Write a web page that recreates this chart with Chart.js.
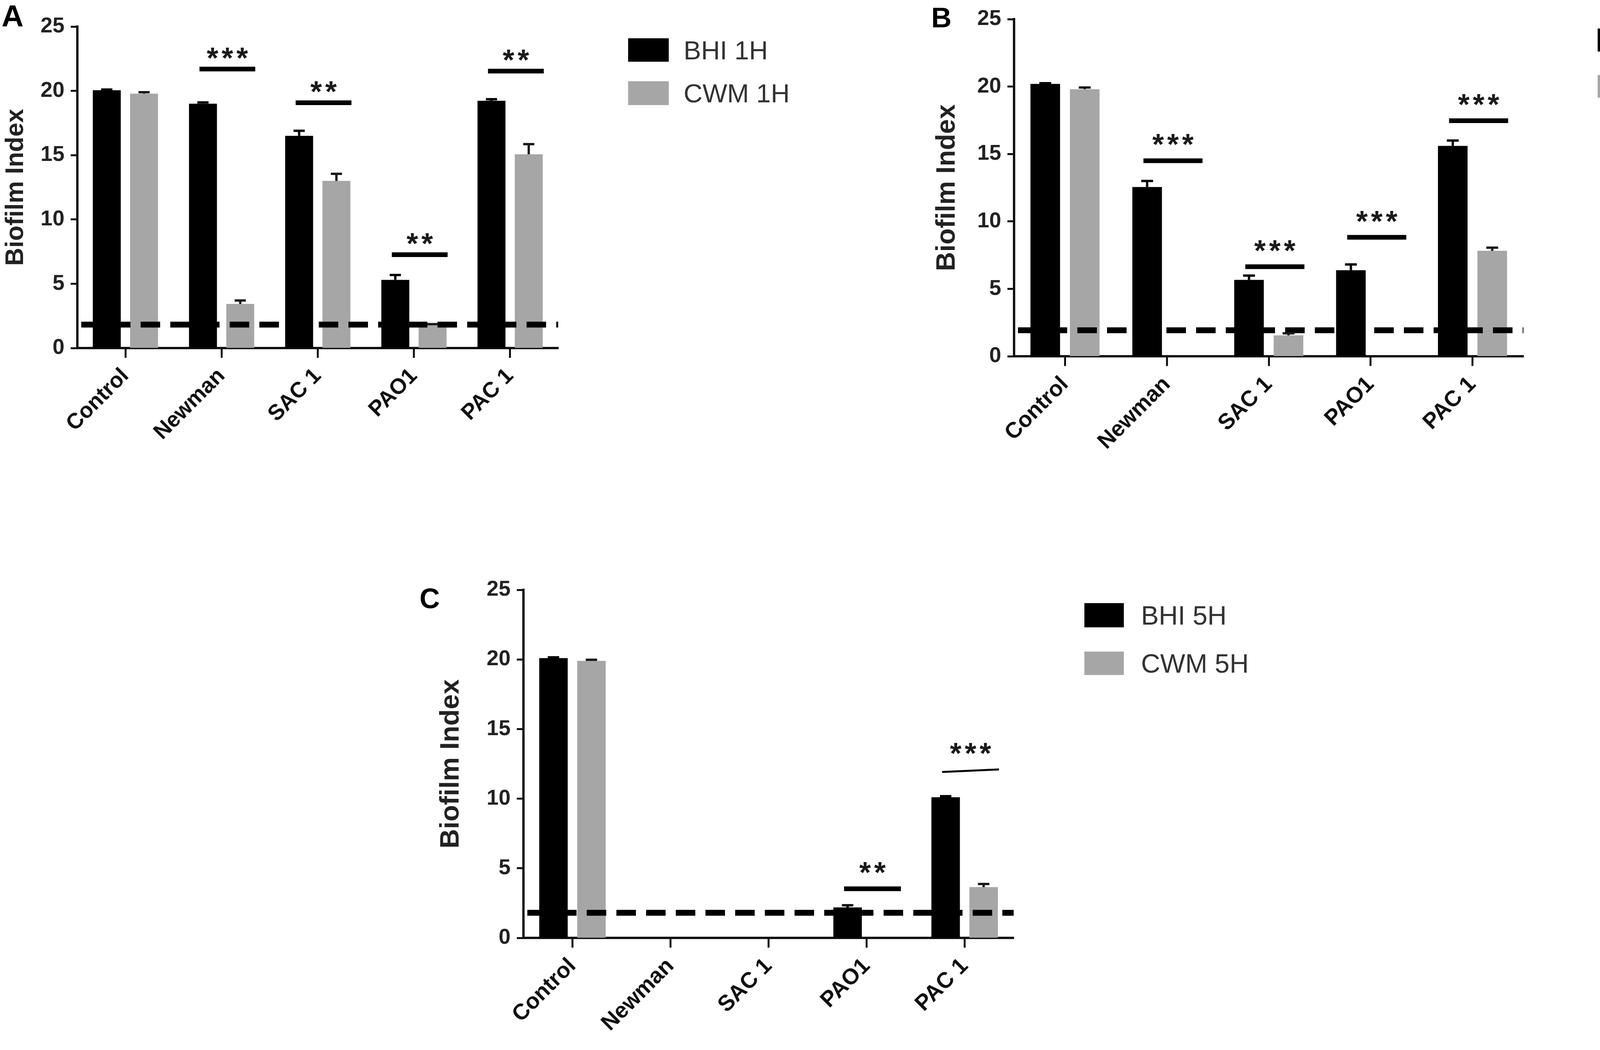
<!DOCTYPE html>
<html><head><meta charset="utf-8">
<script src="https://cdn.jsdelivr.net/npm/chart.js@4.4.1/dist/chart.umd.min.js"></script>
<style>
html,body{margin:0;padding:0;background:#fff;width:4550px;height:2688px;overflow:hidden;position:relative;font-family:'Liberation Sans',Arial,sans-serif}
canvas{position:absolute}
.plabel{position:absolute;font-weight:bold;line-height:1;color:#000}
.legrow{position:absolute;display:flex;align-items:center}
.legtxt{color:#333;line-height:1;white-space:nowrap}
</style></head>
<body>
<div class="plabel" style="left:4px;top:2px;font-size:78px">A</div>
<div class="plabel" style="left:2384px;top:9px;font-size:72px">B</div>
<div class="plabel" style="left:1074px;top:1496px;font-size:72px">C</div>

<div class="legrow" style="left:1608px;top:98px;height:60px"><div style="width:104px;height:60px;background:#000;margin-right:38px"></div><div class="legtxt" style="font-size:67px">BHI 1H</div></div>
<div class="legrow" style="left:1608px;top:208px;height:61px"><div style="width:104px;height:61px;background:#a6a6a6;margin-right:38px"></div><div class="legtxt" style="font-size:67px">CWM 1H</div></div>
<div class="legrow" style="left:4090px;top:73px;height:59px"><div style="width:108px;height:59px;background:#000;margin-right:43px"></div><div class="legtxt" style="font-size:70px">BHI 3H</div></div>
<div class="legrow" style="left:4090px;top:192px;height:58px"><div style="width:108px;height:58px;background:#a6a6a6;margin-right:43px"></div><div class="legtxt" style="font-size:70px">CWM 3H</div></div>
<div class="legrow" style="left:2776px;top:1544px;height:62px"><div style="width:101px;height:62px;background:#000;margin-right:44px"></div><div class="legtxt" style="font-size:68px">BHI 5H</div></div>
<div class="legrow" style="left:2776px;top:1668px;height:60px"><div style="width:101px;height:60px;background:#a6a6a6;margin-right:44px"></div><div class="legtxt" style="font-size:68px">CWM 5H</div></div>

<canvas id="cA" width="1468" height="1181" style="left:1px;top:0px"></canvas>
<canvas id="cB" width="1564" height="1202" style="left:2376px;top:0px"></canvas>
<canvas id="cC" width="1527" height="1241" style="left:1108px;top:1450px"></canvas>

<script>
// ---------- data ----------
const categories = ['Control', 'Newman', 'SAC 1', 'PAO1', 'PAC 1'];
const yTickValues = [0, 5, 10, 15, 20, 25];

// Panel A (1 h)
const bhi1h    = [20.05, 19.0, 16.5, 5.3, 19.23];
const bhi1hErr = [0.05, 0.1, 0.4, 0.38, 0.12];
const cwm1h    = [19.78, 3.43, 13.0, 1.82, 15.07];
const cwm1hErr = [0.12, 0.27, 0.55, 0.04, 0.79];
const cutoff1h = 1.82;
const sig1h = [[1, 21.7, 21.7, '***'], [2, 19.08, 19.08, '**'], [3, 7.26, 7.26, '**'], [4, 21.54, 21.54, '**']];

// Panel B (3 h)
const bhi3h    = [20.2, 12.55, 5.66, 6.38, 15.6];
const bhi3hErr = [0.05, 0.45, 0.32, 0.43, 0.4];
const cwm3h    = [19.8, 0, 1.55, 0, 7.82];
const cwm3hErr = [0.13, 0, 0.15, 0, 0.23];
const cutoff3h = 1.93;
const sig3h = [[1, 14.5, 14.5, '***'], [2, 6.64, 6.64, '***'], [3, 8.82, 8.82, '***'], [4, 17.47, 17.47, '***']];

// Panel C (5 h)
const bhi5h    = [20.1, 0, 0, 2.19, 10.1];
const bhi5hErr = [0.05, 0, 0, 0.15, 0.08];
const cwm5h    = [19.9, 0, 0, 0, 3.65];
const cwm5hErr = [0.08, 0, 0, 0, 0.22];
const cutoff5h = 1.8;
const sig5h = [[3, 3.53, 3.53, '**'], [4, 11.92, 12.1, '***']];

// ---------- plugins ----------
const FONT = "'Liberation Sans', Arial, sans-serif";

const cutoffPlugin = {
  id: 'cutoff',
  afterDatasetsDraw(chart, args, opts) {
    const {ctx, chartArea, scales: {y}} = chart;
    const py = y.getPixelForValue(opts.value);
    ctx.save();
    ctx.strokeStyle = '#000';
    ctx.lineWidth = 15;
    ctx.setLineDash([50, 26]);
    ctx.beginPath();
    ctx.moveTo(chartArea.left + 10, py);
    ctx.lineTo(chartArea.right, py);
    ctx.stroke();
    ctx.restore();
  }
};

const errPlugin = {
  id: 'errbars',
  afterDatasetsDraw(chart) {
    const {ctx, scales: {y}} = chart;
    chart.data.datasets.forEach((ds, di) => {
      const meta = chart.getDatasetMeta(di);
      meta.data.forEach((el, i) => {
        const v = ds.data[i];
        const e = ds.err[i];
        if (!v || !e) return;
        const top = y.getPixelForValue(v + e);
        const half = el.width * 0.2;
        ctx.save();
        ctx.strokeStyle = ds.errColor;
        ctx.lineWidth = 6;
        ctx.beginPath();
        ctx.moveTo(el.x, el.y);
        ctx.lineTo(el.x, top);
        ctx.moveTo(el.x - half, top);
        ctx.lineTo(el.x + half, top);
        ctx.stroke();
        ctx.restore();
      });
    });
  }
};

const sigPlugin = {
  id: 'sig',
  afterDatasetsDraw(chart, args, opts) {
    const {ctx, scales: {x, y}} = chart;
    const cw = x.getPixelForValue(1) - x.getPixelForValue(0);
    opts.items.forEach((it, k) => {
      const [idx, v1, v2, label] = it;
      const cx = x.getPixelForValue(idx);
      const x1 = cx + opts.from * cw, x2 = cx + opts.to * cw;
      const y1 = y.getPixelForValue(v1), y2 = y.getPixelForValue(v2);
      ctx.save();
      ctx.strokeStyle = '#000';
      ctx.lineWidth = (opts.widths && opts.widths[k]) || 12;
      ctx.beginPath();
      ctx.moveTo(x1, y1);
      ctx.lineTo(x2, y2);
      ctx.stroke();
      ctx.fillStyle = opts.starColor;
      ctx.font = 'bold 76px ' + FONT;
      ctx.textAlign = 'center';
      ctx.textBaseline = 'alphabetic';
      const mid = (x1 + x2) / 2;
      const n = label.length;
      const step = 38;
      const base = Math.min(y1, y2) - opts.gap;
      for (let c = 0; c < n; c++) {
        ctx.fillText(label[c], mid + (c - (n - 1) / 2) * step, base);
      }
      ctx.restore();
    });
  }
};

function makeChart(id, bhi, bhiErr, cwm, cwmErr, cutoff, sig, opt) {
  return new Chart(document.getElementById(id), {
    type: 'bar',
    data: {
      labels: categories,
      datasets: [
        {label: 'BHI', data: bhi, err: bhiErr, errColor: '#000', backgroundColor: '#000',
         categoryPercentage: 0.775, barPercentage: 0.75},
        {label: 'CWM', data: cwm, err: cwmErr, errColor: '#1a1a1a', backgroundColor: '#a6a6a6',
         categoryPercentage: 0.775, barPercentage: 0.75}
      ]
    },
    options: {
      responsive: false,
      animation: false,
      devicePixelRatio: 1,
      layout: {padding: {left: 0, right: 40, top: opt.padTop, bottom: 0}},
      plugins: {
        legend: {display: false},
        tooltip: {enabled: false},
        cutoff: {value: cutoff},
        sig: {items: sig, from: -0.23, to: 0.35, gap: opt.starGap, starColor: '#1a1a1a', widths: opt.sigWidths}
      },
      scales: {
        x: {
          type: 'category',
          offset: true,
          grid: {display: true, drawOnChartArea: false, offset: false, drawTicks: true,
                 tickLength: 25, tickWidth: 5, tickColor: '#111'},
          border: {display: true, color: '#111', width: 6},
          ticks: {minRotation: 45, maxRotation: 45, autoSkip: false, padding: 14, color: '#111',
                  font: {family: FONT, size: opt.catSize, weight: 'bold'}},
          afterFit(s) { s.height = 290; }
        },
        y: {
          min: 0, max: 25,
          afterBuildTicks(s) { s.ticks = yTickValues.map(v => ({value: v})); },
          grid: {display: true, drawOnChartArea: false, drawTicks: true, tickLength: 17, tickWidth: 5, tickColor: '#111'},
          border: {display: true, color: '#111', width: 6},
          ticks: {padding: 16, color: '#222', font: {family: FONT, size: 55, weight: 'bold'}},
          title: {display: true, text: 'Biofilm Index', color: '#222',
                  font: {family: FONT, size: opt.titleSize, weight: 'bold'}, padding: {top: opt.titlePad, bottom: 0}},
          afterFit(s) { s.width = opt.yWidth; }
        }
      }
    },
    plugins: [cutoffPlugin, errPlugin, sigPlugin]
  });
}

makeChart('cA', bhi1h, bhi1hErr, cwm1h, cwm1hErr, cutoff1h, sig1h,
  {padTop: 68, yWidth: 197, titleSize: 64, titlePad: 2, catSize: 56, starGap: 3});
makeChart('cB', bhi3h, bhi3hErr, cwm3h, cwm3hErr, cutoff3h, sig3h,
  {padTop: 42, yWidth: 220, titleSize: 68, titlePad: 8, catSize: 57, starGap: 16});
makeChart('cC', bhi5h, bhi5hErr, cwm5h, cwm5hErr, cutoff5h, sig5h,
  {padTop: 60, yWidth: 232, titleSize: 69, titlePad: 6, catSize: 57, starGap: 16, sigWidths: [12, 5]});
</script>
</body></html>
